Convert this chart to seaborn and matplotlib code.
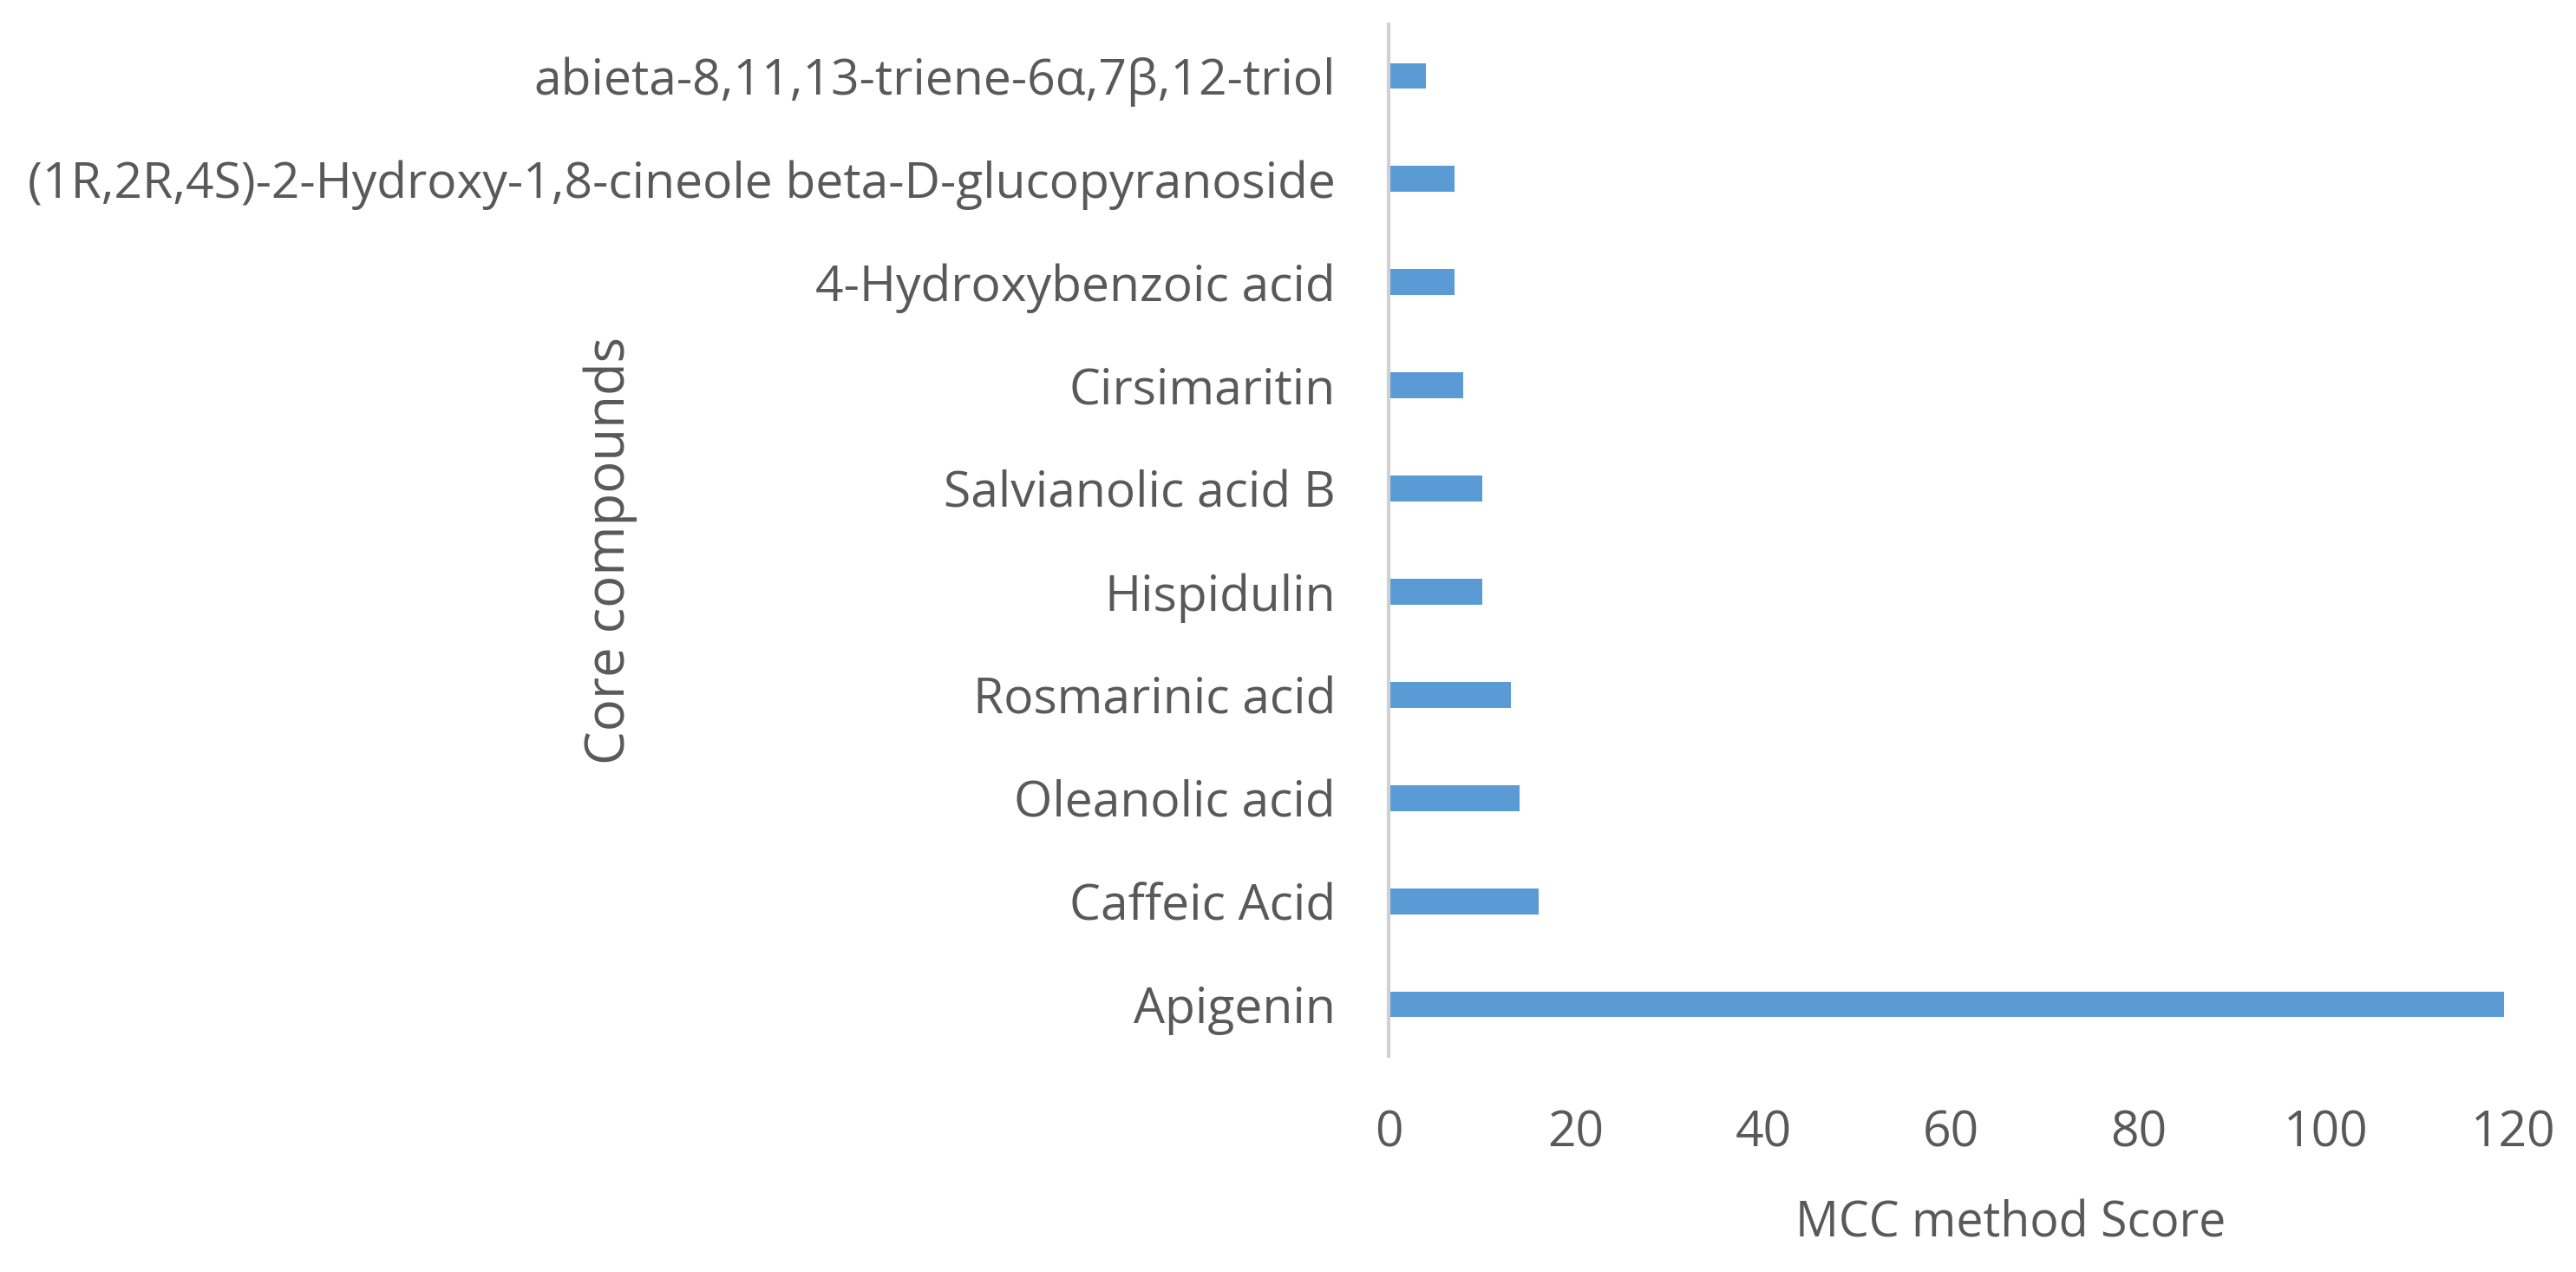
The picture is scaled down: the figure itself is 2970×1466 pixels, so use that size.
import matplotlib
matplotlib.use("Agg")
import matplotlib.pyplot as plt
import seaborn as sns
import pandas as pd

compounds = [
    "abieta-8,11,13-triene-6α,7β,12-triol",
    "(1R,2R,4S)-2-Hydroxy-1,8-cineole beta-D-glucopyranoside",
    "4-Hydroxybenzoic acid",
    "Cirsimaritin",
    "Salvianolic acid B",
    "Hispidulin",
    "Rosmarinic acid",
    "Oleanolic acid",
    "Caffeic Acid",
    "Apigenin",
]
scores = [4, 7, 7, 8, 10, 10, 13, 14, 16, 119]
x_ticks = [0, 20, 40, 60, 80, 100, 120]
x_label = "MCC method Score"
y_label = "Core compounds"

sns.set_theme(style="white")
plt.rcParams["font.family"] = ["Open Sans", "DejaVu Sans"]
text_color = "#595959"

df = pd.DataFrame({"compound": compounds, "score": scores})

W, H = 2970, 1466
fig = plt.figure(figsize=(W / 100, H / 100), dpi=100)
left, right, top, bottom = 1601, 2898, 28, 1217
ax = fig.add_axes([left / W, 1 - bottom / H, (right - left) / W, (bottom - top) / H])

sns.barplot(data=df, x="score", y="compound", orient="h", color="#5b9bd5",
            saturation=1, width=0.25, ax=ax, edgecolor="none")

ax.set_xlim(0, 120)
ax.set_ylim(len(compounds) - 0.5, -0.5)
ax.set_xticks(x_ticks)
ax.set_xticklabels([str(t) for t in x_ticks])

for s in ["top", "right", "bottom"]:
    ax.spines[s].set_visible(False)
ax.spines["left"].set_color("#d0d0d0")
ax.spines["left"].set_linewidth(3)
ax.grid(False)

ax.tick_params(axis="y", length=0, pad=44, labelsize=41, labelcolor=text_color)
ax.tick_params(axis="x", length=0, pad=44, labelsize=41, labelcolor=text_color)

ax.set_xlabel(x_label, fontsize=40, color=text_color, va="top")
ax.xaxis.set_label_coords(0.553, -0.139)
ax.set_ylabel(y_label, fontsize=44.5, color=text_color, va="center", ha="center")
ax.yaxis.set_label_coords(-0.692, 0.49)

fig.savefig("out.png", dpi=100, facecolor="white")
